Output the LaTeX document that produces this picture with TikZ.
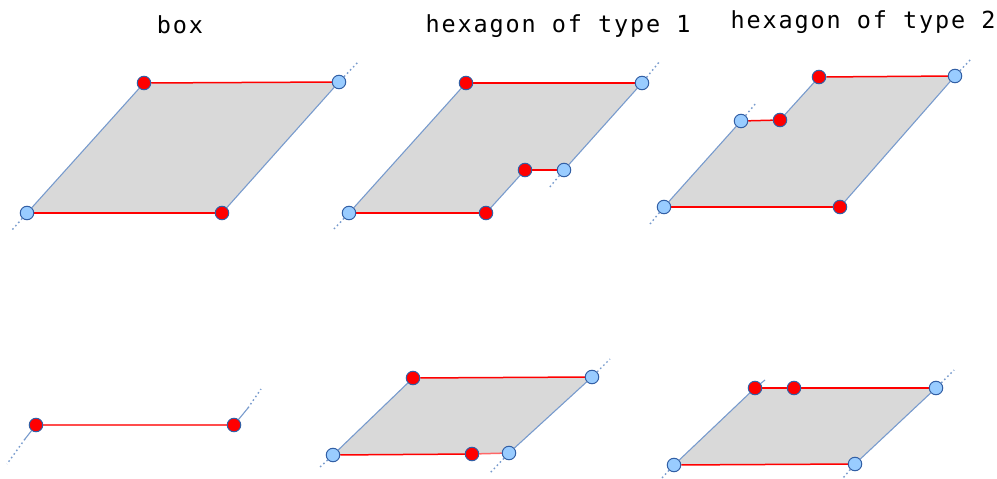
\documentclass[tikz,border=0pt]{standalone}
\usepackage{fontspec}
\newfontfamily\titlefont[LetterSpace=8]{DejaVu Sans Mono}
\usetikzlibrary{backgrounds}
\definecolor{sideblue}{RGB}{120,155,205}
\definecolor{ringblue}{RGB}{50,95,165}
\definecolor{lightblue}{RGB}{153,204,255}
\definecolor{facegray}{RGB}{217,217,217}
\definecolor{redline}{RGB}{255,0,0}
\tikzset{
  bdot/.style={circle,draw=ringblue,fill=lightblue,line width=1pt,minimum size=13.5pt,inner sep=0pt},
  rdot/.style={circle,draw=ringblue,fill=red,line width=1pt,minimum size=13.5pt,inner sep=0pt},
  redge/.style={draw=redline,line width=1.5pt},
  bedge/.style={draw=sideblue,line width=1.1pt},
  ext/.style={draw=sideblue,line width=1.4pt,dash pattern=on 1.6pt off 2.8pt},
  face/.style={fill=facegray},
  ttl/.style={font=\titlefont\fontsize{23.5}{27}\selectfont,anchor=base,inner sep=0pt}
}
\begin{document}
\begin{tikzpicture}[x=1pt,y=-1pt]
\useasboundingbox (0,0) rectangle (997,479);
% titles
\node[ttl] (t1) at (180,33) {box};
\node[ttl] (t2) at (558,32.3) {hexagon of type 1};
\node[ttl] (t3) at (863,28.3) {hexagon of type 2};

% ---------- panel 1 : box ----------
\node[bdot] (a1) at (27,213) {};
\node[rdot] (a2) at (222,213) {};
\node[bdot] (a3) at (339,82) {};
\node[rdot] (a4) at (144,83) {};
\coordinate (a1e) at (12,230);
\coordinate (a3e) at (359,61);
\begin{scope}[on background layer]
\fill[face] (a1.center) -- (a2.center) -- (a3.center) -- (a4.center) -- cycle;
\draw[redge] (a1) -- (a2);
\draw[redge] (a4) -- (a3);
\draw[bedge] (a2) -- (a3);
\draw[bedge] (a4) -- (a1);
\draw[ext] (a1) -- (a1e);
\draw[ext] (a3) -- (a3e);
\end{scope}

% ---------- panel 2 : hexagon type 1 ----------
\node[bdot] (b1) at (349,213) {};
\node[rdot] (b2) at (486,213) {};
\node[rdot] (b3) at (525,170) {};
\node[bdot] (b4) at (564,170) {};
\node[bdot] (b5) at (642,83) {};
\node[rdot] (b6) at (466,83) {};
\coordinate (b1e) at (334,229);
\coordinate (b4e) at (549,188);
\coordinate (b5e) at (660,61);
\begin{scope}[on background layer]
\fill[face] (b1.center) -- (b2.center) -- (b3.center) -- (b4.center) -- (b5.center) -- (b6.center) -- cycle;
\draw[redge] (b1) -- (b2);
\draw[bedge] (b2) -- (b3);
\draw[redge] (b3) -- (b4);
\draw[bedge] (b4) -- (b5);
\draw[redge] (b5) -- (b6);
\draw[bedge] (b6) -- (b1);
\draw[ext] (b1) -- (b1e);
\draw[ext] (b4) -- (b4e);
\draw[ext] (b5) -- (b5e);
\end{scope}

% ---------- panel 3 : hexagon type 2 ----------
\node[bdot] (c1) at (664,207) {};
\node[rdot] (c2) at (840,207) {};
\node[bdot] (c3) at (955,76) {};
\node[rdot] (c4) at (819,77) {};
\node[rdot] (c5) at (780,120) {};
\node[bdot] (c6) at (741,121) {};
\coordinate (c1e) at (650,224);
\coordinate (c6e) at (756,103);
\coordinate (c3e) at (971,59);
\begin{scope}[on background layer]
\fill[face] (c1.center) -- (c2.center) -- (c3.center) -- (c4.center) -- (c5.center) -- (c6.center) -- cycle;
\draw[redge] (c1) -- (c2);
\draw[bedge] (c2) -- (c3);
\draw[redge] (c3) -- (c4);
\draw[bedge] (c4) -- (c5);
\draw[redge] (c5) -- (c6);
\draw[bedge] (c6) -- (c1);
\draw[ext] (c1) -- (c1e);
\draw[ext] (c6) -- (c6e);
\draw[ext] (c3) -- (c3e);
\end{scope}

% ---------- panel 4 : degenerate box ----------
\node[rdot] (d1) at (36,425) {};
\node[rdot] (d2) at (234,425) {};
\coordinate (d1m) at (25,439);
\coordinate (d1e) at (7,464);
\coordinate (d2m) at (248,408);
\coordinate (d2e) at (261,389);
\begin{scope}[on background layer]
\draw[redge,draw=red!70] (d1) -- (d2);
\draw[bedge] (d1) -- (d1m);
\draw[ext] (d1m) -- (d1e);
\draw[bedge] (d2) -- (d2m);
\draw[ext] (d2m) -- (d2e);
\end{scope}

% ---------- panel 5 ----------
\node[bdot] (e1) at (333,455) {};
\node[rdot] (e2) at (472,454) {};
\node[bdot] (e3) at (509,453) {};
\node[bdot] (e4) at (592,377) {};
\node[rdot] (e5) at (413,378) {};
\coordinate (e1e) at (320,467);
\coordinate (e3e) at (490,473);
\coordinate (e4e) at (610,359);
\begin{scope}[on background layer]
\fill[face] (e1.center) -- (e2.center) -- (e3.center) -- (e4.center) -- (e5.center) -- cycle;
\draw[redge] (e1) -- (e2);
\draw[redge,draw=red!60] (e2) -- (e3);
\draw[bedge] (e3) -- (e4);
\draw[redge] (e4) -- (e5);
\draw[bedge] (e5) -- (e1);
\draw[ext] (e1) -- (e1e);
\draw[ext] (e3) -- (e3e);
\draw[ext] (e4) -- (e4e);
\end{scope}

% ---------- panel 6 ----------
\node[bdot] (f1) at (674,465) {};
\node[bdot] (f2) at (855,464) {};
\node[bdot] (f3) at (936,388) {};
\node[rdot] (f4) at (794,388) {};
\node[rdot] (f5) at (755,388) {};
\coordinate (f1e) at (662,478);
\coordinate (f2e) at (843,478);
\coordinate (f3e) at (954,370);
\coordinate (f5e) at (765,380);
\begin{scope}[on background layer]
\fill[face] (f1.center) -- (f2.center) -- (f3.center) -- (f4.center) -- (f5.center) -- cycle;
\draw[redge] (f1) -- (f2);
\draw[bedge] (f2) -- (f3);
\draw[redge] (f3) -- (f4);
\draw[redge] (f4) -- (f5);
\draw[bedge] (f5) -- (f1);
\draw[ext] (f1) -- (f1e);
\draw[ext] (f2) -- (f2e);
\draw[ext] (f3) -- (f3e);
\draw[bedge] (f5) -- (f5e);
\end{scope}
\end{tikzpicture}
\end{document}
